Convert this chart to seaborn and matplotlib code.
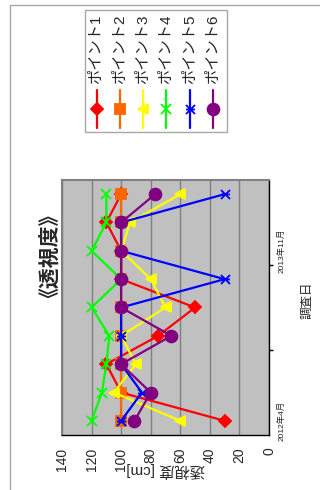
import matplotlib
matplotlib.use("Agg")
import matplotlib.pyplot as plt
from matplotlib.path import Path
from matplotlib.patches import Rectangle
import pandas as pd
import seaborn as sns

# 調査回（0 = 2012年4月 … 8）
survey_index = [0, 1, 2, 3, 4, 5, 6, 7, 8]
date_tick_pos = [0, 6]
date_tick_labels = ["2012年4月", "2013年11月"]
date_minor_pos = [2.5, 5.5]

point_names = ["ポイント1", "ポイント2", "ポイント3", "ポイント4", "ポイント5", "ポイント6"]
point1 = [30, 100, 110, 75, 50, 100, 100, 110, 100]
point2 = [100, 100, 100, 100, 100, 100, 100, 100, 100]
point3 = [60, 105, 90, 100, 70, 80, 100, 94, 60]
point4 = [120, 113, 110, 108, 120, 100, 120, 110, 110]
point5 = [100, 86, 100, 100, 100, 30, 100, 100, 30]
point6 = [91, 80, 100, 66, 100, 100, 100, 100, 77]

value_ticks = [0, 20, 40, 60, 80, 100, 120, 140]

colors = ["#FF0000", "#FF6600", "#FFFF00", "#00FF00", "#0000FF", "#800080"]

# Excel 風のアスタリスク（× と横線）
star = Path([(-1, -1), (1, 1), (-1, 1), (1, -1), (-1, 0), (1, 0)],
            [Path.MOVETO, Path.LINETO, Path.MOVETO, Path.LINETO,
             Path.MOVETO, Path.LINETO])
marker_list = ["D", "s", "<", "x", star, "o"]
marker_sizes = [6.5, 6.5, 7.5, 6.5, 6.5, 8.5]

sns.set_style("white")
plt.rcParams["font.family"] = ["Liberation Sans", "Noto Sans CJK JP", "DejaVu Sans"]

frames = []
for name, vals in zip(point_names, [point1, point2, point3, point4, point5, point6]):
    frames.append(pd.DataFrame({"調査回": survey_index, "透視度": vals, "地点": name}))
df = pd.concat(frames, ignore_index=True)

W, H = 320, 490
fig = plt.figure(figsize=(W / 100, H / 100), dpi=100, facecolor="white")
ax = fig.add_axes([62 / W, 1 - 435 / H, 207 / W, 255 / H])
ax.set_facecolor("#C0C0C0")

for name, c, m, ms in zip(point_names, colors, marker_list, marker_sizes):
    sub = df[df["地点"] == name]
    sns.lineplot(data=sub, x="透視度", y="調査回", orient="y", estimator=None,
                 sort=True, color=c, linewidth=1.6, marker=m, markersize=ms,
                 markeredgecolor=c, markerfacecolor=c, markeredgewidth=1.3,
                 legend=False, ax=ax)

ax.set_xlim(140, 0)
ax.set_ylim(-0.5, 8.5)
ax.set_xlabel("")
ax.set_ylabel("")

ax.set_xticks(value_ticks)
ax.set_xticklabels([str(v) for v in value_ticks], rotation=90, fontsize=10)
ax.tick_params(axis="x", length=0, pad=9)
ax.grid(axis="x", color="#808080", linewidth=1)
ax.grid(axis="y", visible=False)
ax.set_axisbelow(True)

ax.yaxis.tick_right()
ax.set_yticks(date_tick_pos)
ax.set_yticklabels(date_tick_labels, rotation=90, fontsize=6, va="center")
ax.set_yticks(date_minor_pos, minor=True)
ax.tick_params(axis="y", which="major", length=0, pad=6)
ax.tick_params(axis="y", which="minor", length=3, width=1, direction="out",
               right=True, left=False, color="black")

for side in ("top", "left"):
    ax.spines[side].set_color("#808080")
    ax.spines[side].set_linewidth(1.5)
for side in ("bottom", "right"):
    ax.spines[side].set_color("black")
    ax.spines[side].set_linewidth(1)

ax.text(0.5, -0.137, "透視度 [cm]", rotation=180, ha="center", va="center",
        fontsize=11, transform=ax.transAxes)
ax.text(1.184, 0.53, "調査日", rotation=90, ha="center", va="center",
        fontsize=9, transform=ax.transAxes)

fig.text(41 / W, 1 - 246 / H, "《透視度》", rotation=90, ha="center", va="center",
         fontsize=15, fontweight="bold")

# 凡例と外枠（ピクセル座標のオーバーレイ）
lg = fig.add_axes([0, 0, 1, 1])
lg.set_xlim(0, W)
lg.set_ylim(H, 0)
lg.axis("off")
lg.patch.set_alpha(0)
lg.plot([10, 10], [5, H], color="#A8A8A8", linewidth=1)
lg.plot([10, W], [5, 5], color="#A8A8A8", linewidth=1)
lg.add_patch(Rectangle((85, 10), 142, 122, facecolor="white",
                       edgecolor="#A8A8A8", linewidth=1))
for i, (name, c, m, ms) in enumerate(zip(point_names, colors, marker_list, marker_sizes)):
    cx = 96.5 + i * 23.3
    lg.plot([cx, cx], [90, 128], color=c, linewidth=1.6)
    lg.plot([cx], [109], marker=m, color=c, markeredgecolor=c,
            markersize=ms, markeredgewidth=1.3)
    lg.text(cx, 84, name, rotation=90, ha="center", va="bottom", fontsize=11)

fig.savefig("out.png", dpi=100, facecolor="white")
